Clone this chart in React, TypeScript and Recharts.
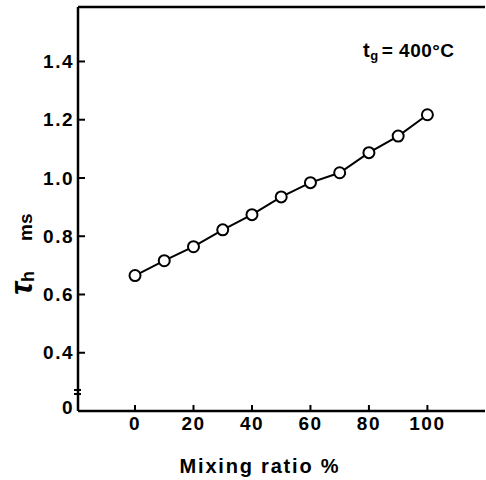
import {
  LineChart, Line, XAxis, YAxis, ReferenceDot, ReferenceLine,
} from "recharts";

// mixing ratio (%) vs tau_h (ms), tg = 400°C
const ratio = [0, 10, 20, 30, 40, 50, 60, 70, 80, 90, 100];
const tauH = [0.665, 0.716, 0.764, 0.822, 0.874, 0.935, 0.984, 1.018, 1.087, 1.144, 1.217];
const xTicks = [0, 20, 40, 60, 80, 100];
const yTicks = [0.2, 0.4, 0.6, 0.8, 1.0, 1.2, 1.4];
const yTickLabel: Record<number, string> = { 0.2: "0" };

const data = ratio.map((r, i) => ({ r, t: tauH[i] }));
const FONT = "'Liberation Sans', Arial, sans-serif";
const X_DOM: [number, number] = [-19.5, 119.7];
const Y_DOM: [number, number] = [0.2, 1.587];

function YTick({ x, y, payload }: any) {
  const v = payload.value;
  const lbl = yTickLabel[v] ?? v.toFixed(1);
  const isZero = v === 0.2;
  return (
    <g>
      {!isZero && <line x1={x} x2={x + 7} y1={y} y2={y} stroke="#000" strokeWidth={2} />}
      {isZero && (
        <g>
          <line x1={x - 4} x2={x + 3} y1={y - 21} y2={y - 21} stroke="#000" strokeWidth={2} />
          <line x1={x - 4} x2={x + 3} y1={y - 17} y2={y - 17} stroke="#000" strokeWidth={2} />
        </g>
      )}
      <text x={x - 4} y={y - (isZero ? 4 : 0)} dy="0.35em" textAnchor="end" fontFamily={FONT}
        fontWeight="bold" fontSize={19} letterSpacing={1.5} fill="#000">{lbl}</text>
    </g>
  );
}

function XTick({ x, y, payload }: any) {
  return (
    <g>
      <line x1={x} x2={x} y1={y} y2={y - 6} stroke="#000" strokeWidth={2} />
      <text x={x} y={y + 19} textAnchor="middle" fontFamily={FONT} fontWeight="bold"
        fontSize={19} letterSpacing={1.5} fill="#000">{payload.value}</text>
    </g>
  );
}

function YLabel() {
  return (
    <text transform="translate(32,295) rotate(-90)" fontFamily={FONT} fontWeight="bold" fill="#000">
      <tspan fontSize={32} fontStyle="italic">τ</tspan>
      <tspan fontSize={18} dy={2}>h</tspan>
      <tspan fontSize={19} dx={30} dy={-2}>ms</tspan>
    </text>
  );
}

function XLabel() {
  return (
    <text x={260} y={473} textAnchor="middle" fontFamily={FONT} fontWeight="bold" fontSize={20}
      letterSpacing={1.8} fill="#000">
      Mixing ratio  %
    </text>
  );
}

function Note({ cx, cy }: any) {
  return (
    <text x={cx} y={cy} fontFamily={FONT} fontWeight="bold" fill="#000" letterSpacing={0.5}>
      <tspan fontSize={20}>t</tspan>
      <tspan fontSize={13} dy={3}>g</tspan>
      <tspan fontSize={19} dy={-3} dx={3}>= 400°C</tspan>
    </text>
  );
}

export default function App() {
  return (
    <div style={{ position: "absolute", left: 0, top: 0, background: "#fff" }}>
      <LineChart width={486} height={480} data={data} margin={{ top: 7, right: 1, bottom: 0, left: 0 }}>
        <XAxis dataKey="r" type="number" domain={X_DOM} ticks={xTicks} height={69}
          tickSize={0} tickMargin={0} tick={<XTick />} axisLine={{ stroke: "#000", strokeWidth: 2.5 }}
          tickLine={false} label={<XLabel />} />
        <YAxis type="number" domain={Y_DOM} ticks={yTicks} width={78} tickSize={0} tickMargin={0}
          tick={<YTick />} tickLine={false} axisLine={{ stroke: "#000", strokeWidth: 2.5 }}
          label={<YLabel />} />
        <YAxis yAxisId="right" orientation="right" type="number" domain={Y_DOM} width={0}
          tick={false} tickLine={false} axisLine={{ stroke: "#999", strokeWidth: 1.5, strokeDasharray: "10 6" }} />
        <ReferenceLine y={Y_DOM[1]} stroke="#000" strokeWidth={2.5} ifOverflow="extendDomain" />
        <Line dataKey="t" stroke="#000" strokeWidth={2} isAnimationActive={false}
          dot={{ r: 5.5, stroke: "#000", strokeWidth: 2, fill: "#fff" }} />
        <ReferenceDot x={78} y={1.415} r={0} shape={<Note />} />
      </LineChart>
    </div>
  );
}
